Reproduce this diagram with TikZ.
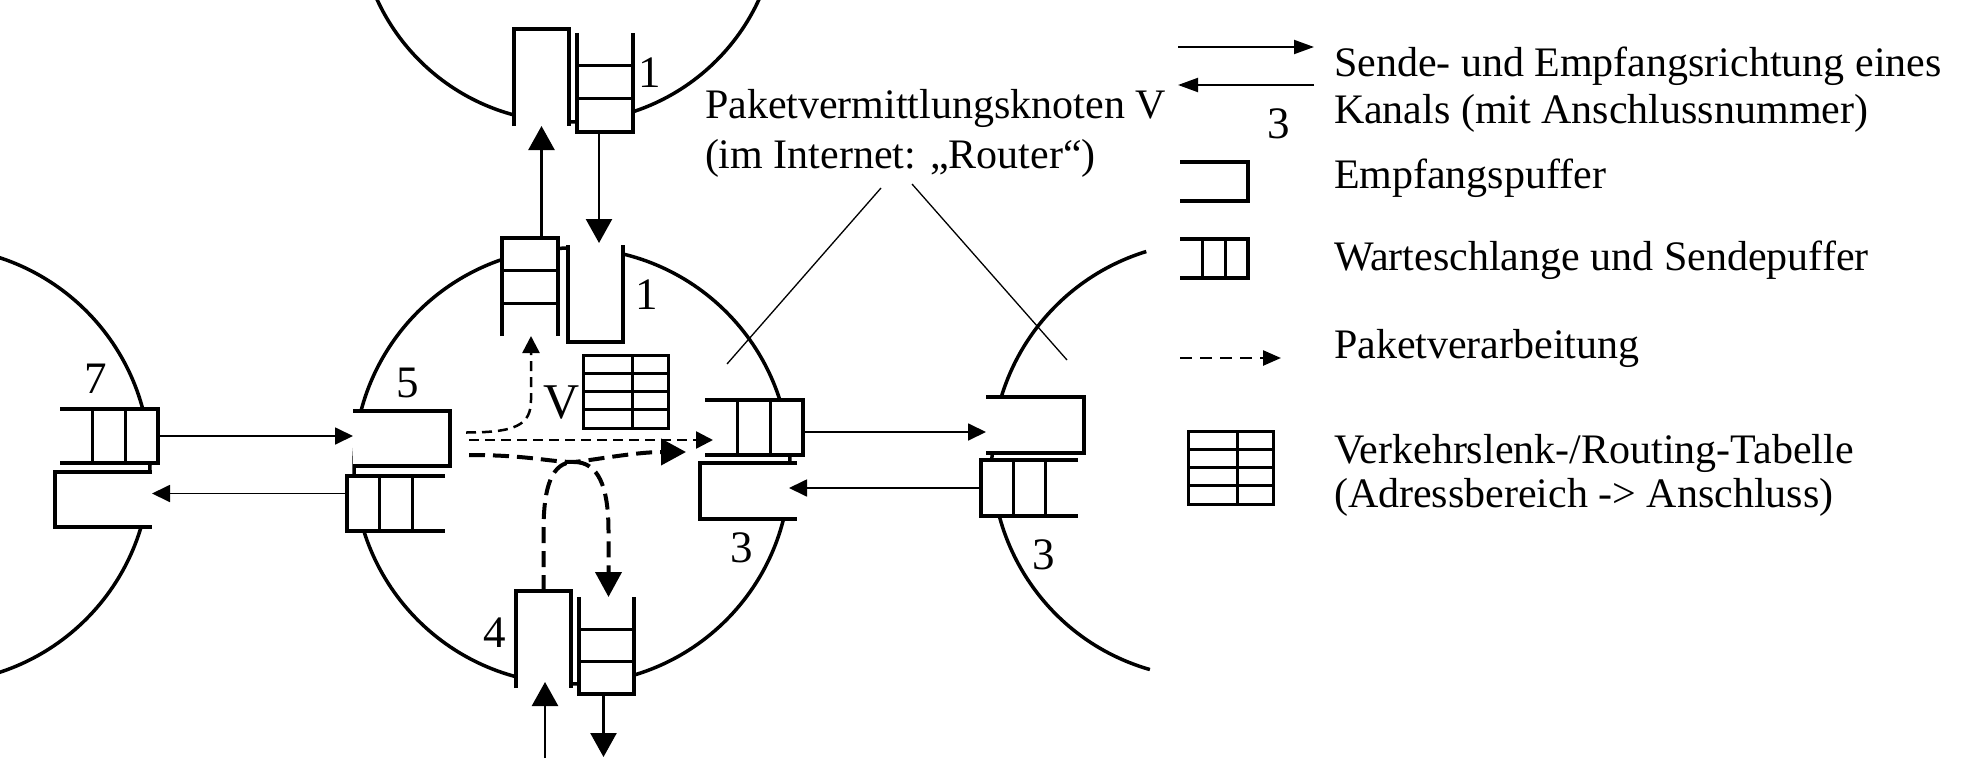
\documentclass[tikz,border=0pt]{standalone}
\usepackage{fontspec}
\setmainfont{Liberation Serif}
\usetikzlibrary{arrows.meta,calc}
\newcommand\OpenS[1]{\draw[bline] (#1.south west) -- (#1.north west) -- (#1.north east) -- (#1.south east);}
\newcommand\OpenN[1]{\draw[bline] (#1.north west) -- (#1.south west) -- (#1.south east) -- (#1.north east);}
\newcommand\OpenW[1]{\draw[bline] (#1.north west) -- (#1.north east) -- (#1.south east) -- (#1.south west);}
\newcommand\OpenE[1]{\draw[bline] (#1.north east) -- (#1.north west) -- (#1.south west) -- (#1.south east);}
\newcommand\QdivH[1]{\draw[dline] ($(#1.north west)!1/3!(#1.south west)$) -- ($(#1.north east)!1/3!(#1.south east)$) ($(#1.north west)!2/3!(#1.south west)$) -- ($(#1.north east)!2/3!(#1.south east)$);}
\newcommand\QdivV[1]{\draw[dline] ($(#1.north west)!1/3!(#1.north east)$) -- ($(#1.south west)!1/3!(#1.south east)$) ($(#1.north west)!2/3!(#1.north east)$) -- ($(#1.south west)!2/3!(#1.south east)$);}
\newcommand\RTable[1]{\draw[tab] (#1.north west) rectangle (#1.south east);
  \foreach \ff in {0.25,0.5,0.75} {\draw[tab] ($(#1.north west)!\ff!(#1.south west)$) -- ($(#1.north east)!\ff!(#1.south east)$);}
  \draw[tab] ($(#1.north west)!0.58!(#1.north east)$) -- ($(#1.south west)!0.58!(#1.south east)$);}
\begin{document}
\begin{tikzpicture}[x=1pt,y=-1pt,
  every node/.style={inner sep=0pt, outer sep=0pt},
  txt/.style={font=\fontsize{42}{48}\selectfont, anchor=base west},
  num/.style={font=\fontsize{45}{50}\selectfont},
  ring/.style={line width=3.5pt},
  buf/.style={fill=white},
  bline/.style={line width=3.5pt},
  dline/.style={line width=3pt},
  tab/.style={line width=3pt},
  chanV/.style={line width=2.5pt, -{Triangle[length=24pt,width=26pt]}},
  chanH/.style={line width=1.8pt, -{Triangle[length=18pt,width=17pt]}},
  legarr/.style={line width=2pt, -{Triangle[length=20pt,width=14pt]}},
  legdash/.style={line width=2.5pt, dash pattern=on 12pt off 8pt, -{Triangle[length=18pt,width=15pt]}},
  procthin/.style={line width=2.5pt, dash pattern=on 10pt off 6pt, -{Triangle[length=17pt,width=17pt]}},
  procthick/.style={line width=4pt, dash pattern=on 16pt off 8pt, -{Triangle[length=25pt,width=26pt]}},
  note/.style={line width=1.3pt},
]
\path[use as bounding box] (0,0) rectangle (1975,760);
\clip (0,0) rectangle (1975,760);

% nodes (circles)
\draw[ring] (-68,465) circle[radius=218];
\draw[ring] (568,-88) circle[radius=210];
\draw[ring] (572,466) circle[radius=218];
\draw[ring] (1210,460) ++(106:218) arc[start angle=106, end angle=253, radius=218];

% buffers
\node[buf, minimum width=55pt, minimum height=97pt] (r1t) at (541.5,77.5) {};
\node[buf, minimum width=56pt, minimum height=99pt] (q1t) at (605,82.5) {};
\node[buf, minimum width=56pt, minimum height=98pt] (q1c) at (530,287) {};
\node[buf, minimum width=55pt, minimum height=97pt] (r1c) at (595.5,293.5) {};
\node[buf, minimum width=98pt, minimum height=54pt] (q7) at (109,436) {};
\node[buf, minimum width=97pt, minimum height=55pt] (r7) at (103.5,499.5) {};
\node[buf, minimum width=97pt, minimum height=55pt] (r5) at (401.5,438.5) {};
\node[buf, minimum width=98pt, minimum height=55pt] (q5) at (396,503.5) {};
\node[buf, minimum width=98pt, minimum height=55pt] (q3c) at (754,427.5) {};
\node[buf, minimum width=97pt, minimum height=56pt] (r3c) at (748.5,491) {};
\node[buf, minimum width=98pt, minimum height=56pt] (r3r) at (1035,425) {};
\node[buf, minimum width=97pt, minimum height=56pt] (q3r) at (1029.5,488) {};
\node[buf, minimum width=55pt, minimum height=97pt] (r4) at (543.5,639.5) {};
\node[buf, minimum width=55pt, minimum height=97pt] (q4) at (606.5,645.5) {};

\OpenS{r1t} \OpenN{q1t} \QdivH{q1t}
\OpenS{q1c} \QdivH{q1c} \OpenN{r1c}
\OpenW{q7} \QdivV{q7} \OpenE{r7}
\OpenW{r5} \OpenE{q5} \QdivV{q5}
\OpenW{q3c} \QdivV{q3c} \OpenE{r3c}
\OpenW{r3r} \OpenE{q3r} \QdivV{q3r}
\OpenS{r4} \OpenN{q4} \QdivH{q4}

% routing table in V
\node[minimum width=85pt, minimum height=73pt] (tbl) at (625.5,391.5) {};
\RTable{tbl}
\node[font=\fontsize{50}{55}\selectfont] (lV) at (562,403) {V};

% port numbers
\node[num] (l1t) at (650,73) {1};
\node[num] (l1c) at (647,295) {1};
\node[num] (l5) at (408,383) {5};
\node[num] (l7) at (96,379) {7};
\node[num] (l4) at (495,633) {4};
\node[num] (l3c) at (742,548) {3};
\node[num] (l3r) at (1044,555) {3};

% channels
\draw[chanV] (r1t.south |- q1c.north) -- (r1t.south);
\draw[chanV] ($(q1t.south)+(-6,0)$) -- ($(q1t.south)+(-6,111)$);
\draw[chanH] (q7.east) -- (r5.west |- q7.east);
\draw[chanH] ($(q5.west)+(0,-10)$) -- ($(q5.west -| r7.east)+(0,-10)$);
\draw[chanH] ($(q3c.east)+(0,4.5)$) -- ($(q3c.east -| r3r.west)+(0,4.5)$);
\draw[chanH] (q3r.west) -- ($(q3r.west -| r3c.east)+(-8,0)$);
\coordinate (inb) at ($(r4.south)+(1.5,70)$);
\coordinate (outb) at ($(q4.south)+(-3,63)$);
\draw[chanV] (inb) -- ($(r4.south)+(1.5,-6)$);
\draw[chanV] ($(q4.south)+(-3,0)$) -- (outb);

% packet processing
\coordinate (apex) at (574,462);
\draw[procthin] ($(r5.east)+(16,-6)$) .. controls +(50,0) and +(0,25) .. ($(q1c.south)+(1,64)$) -- ($(q1c.south)+(1,0)$);
\draw[procthin] ($(r5.east)+(19,1.5)$) -- ($(q3c.west)+(8,12.5)$);
\draw[procthick] ($(r5.east)+(19,16.5)$) .. controls +(60,0) and +(-25,0) .. (apex) .. controls +(20,-2) and +(-50,0) .. ($(q3c.west)+(-19,24.5)$);
\draw[procthick] (r4.north) -- ++(0,-60) .. controls +(0,-45) and +(-22,0) .. (apex) .. controls +(24,0) and +(0,-45) .. ($(q4.north)+(2,-66)$) -- ($(q4.north)+(2,0)$);

% router annotation
\node[txt] (rt1) at (705,118) {Paketvermittlungsknoten V};
\node[txt] (rt2) at (705,168) {(im Internet: „Router“)};
\coordinate (na) at (727,364);
\coordinate (nb) at (1067,360);
\draw[note] ($(rt2.base west)+(176,20)$) -- (na);
\draw[note] ($(rt2.base west)+(207,16)$) -- (nb);

% legend
\coordinate (la1) at (1178,47); \coordinate (la2) at (1314,47);
\coordinate (lb1) at (1314,85); \coordinate (lb2) at (1178,85);
\draw[legarr] (la1) -- (la2);
\draw[legarr] (lb1) -- (lb2);
\node[num] (l3leg) at (1279,124) {3};
\node[txt] (lt1) at (1334,77) {Sende- und Empfangsrichtung eines};
\node[txt] (lt2) at (1334,123) {Kanals (mit Anschlussnummer)};
\node[minimum width=68pt, minimum height=39pt] (le1) at (1214,181.5) {};
\OpenW{le1}
\node[txt] (lt3) at (1334,188) {Empfangspuffer};
\node[minimum width=68pt, minimum height=39pt] (le2) at (1214,258.5) {};
\OpenW{le2} \QdivV{le2}
\node[txt] (lt4) at (1334,270) {Warteschlange und Sendepuffer};
\coordinate (lc1) at (1180,358); \coordinate (lc2) at (1281,358);
\draw[legdash] (lc1) -- (lc2);
\node[txt] (lt5) at (1334,358) {Paketverarbeitung};
\node[minimum width=85pt, minimum height=73pt] (le3) at (1230.5,467.5) {};
\RTable{le3}
\node[txt] (lt6) at (1334,463) {Verkehrslenk-/Routing-Tabelle};
\node[txt] (lt7) at (1334,507) {(Adressbereich -> Anschluss)};
\end{tikzpicture}
\end{document}
